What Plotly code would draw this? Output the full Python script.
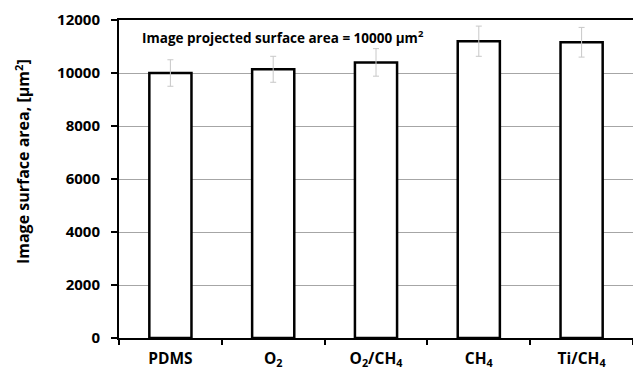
import plotly.graph_objects as go

categories = ["PDMS", "O<sub>2</sub>", "O<sub>2</sub>/CH<sub>4</sub>", "CH<sub>4</sub>", "Ti/CH<sub>4</sub>"]
surface_area = [10000, 10140, 10400, 11200, 11160]
error = [500, 490, 520, 570, 560]
y_ticks = [0, 2000, 4000, 6000, 8000, 10000, 12000]
y_tick_labels = [str(v) for v in y_ticks]

FONT = "Open Sans"

fig = go.Figure()
fig.add_trace(go.Bar(
    x=categories,
    y=surface_area,
    width=0.41,
    marker=dict(color="white", line=dict(color="black", width=2.5)),
    error_y=dict(type="data", array=error, visible=True, color="#c8c8c8", thickness=1, width=3),
))

fig.add_annotation(
    text="Image projected surface area = 10000 µm<sup>2</sup>",
    xref="paper", yref="paper", x=0.041, y=0.945,
    xanchor="left", yanchor="middle", showarrow=False,
    font=dict(family=FONT, size=13.5, color="black", weight="bold"),
)

# y-axis title (placed as a rotated annotation to match the reference offset)
fig.add_annotation(
    text="Image surface area, [µm<sup>2</sup>]",
    xref="paper", yref="paper", x=-0.187, y=0.556,
    xanchor="center", yanchor="middle", showarrow=False, textangle=-90,
    font=dict(family=FONT, size=16, color="black", weight="bold"),
)

fig.update_layout(
    width=633, height=371,
    margin=dict(l=119, r=0, t=20, b=33, autoexpand=False),
    plot_bgcolor="white", paper_bgcolor="white",
    showlegend=False,
    font=dict(family=FONT, color="black"),
    xaxis=dict(
        automargin=False,
        showline=True, linecolor="black", linewidth=2, mirror=True,
        ticks="outside", ticklen=5, tickwidth=2, tickcolor="black",
        tickson="boundaries", showgrid=False,
        ticklabelstandoff=5,
        tickfont=dict(family=FONT, size=15.5, color="black", weight="bold"),
    ),
    yaxis=dict(
        automargin=False,
        range=[0, 12000], tickvals=y_ticks, ticktext=y_tick_labels,
        showline=True, linecolor="black", linewidth=2,
        ticks="outside", ticklen=6, tickwidth=2, tickcolor="black",
        ticklabelstandoff=8,
        showgrid=True, gridcolor="#a6a6a6", gridwidth=1,
        zeroline=False,
        tickfont=dict(family=FONT, size=15, color="black", weight="bold"),
    ),
)

fig.write_html(
    "out.html",
    config={"displayModeBar": False},
    post_script="document.body.style.margin='0';document.body.style.overflow='hidden';",
)
